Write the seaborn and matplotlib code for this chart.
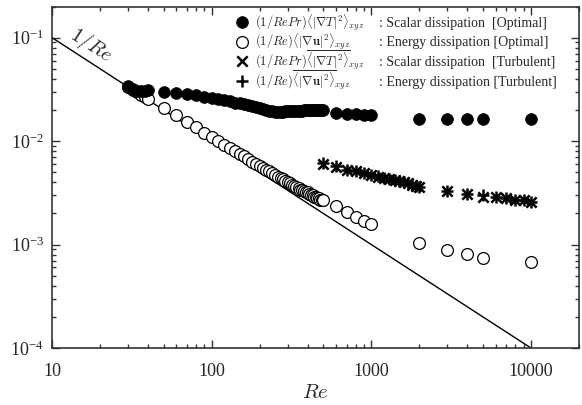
import numpy as np
import matplotlib
matplotlib.use("Agg")
import matplotlib.pyplot as plt
import seaborn as sns
from matplotlib.ticker import FuncFormatter, LogLocator, NullFormatter

# ---------------- data ----------------
re_opt = [30, 32, 34, 36, 38, 40,
          50, 60, 70, 80, 90, 100, 110, 120, 130, 140, 150, 160, 170, 180,
          190, 200, 210, 220, 230, 240, 250, 260, 270, 280, 290, 300, 310,
          320, 330, 340, 350, 360, 370, 380, 390, 400, 410, 420, 430, 440,
          450, 460, 470, 480, 490, 500,
          600, 700, 800, 900, 1000,
          2000, 3000, 4000, 5000, 10000]

scalar_opt = [0.0340, 0.0322, 0.0308, 0.0302, 0.0305, 0.0310,
              0.0300, 0.0292, 0.0284, 0.0276, 0.0268, 0.0261, 0.0254, 0.0248,
              0.0242, 0.0236, 0.0231, 0.0226, 0.0221, 0.0216, 0.0212, 0.0208,
              0.0204, 0.0200, 0.0197, 0.0194, 0.0192, 0.0192, 0.0193, 0.0193,
              0.0194, 0.0194, 0.0195, 0.0195, 0.0196, 0.0196, 0.0197, 0.0197,
              0.0197, 0.0198, 0.0198, 0.0198, 0.0199, 0.0199, 0.0199, 0.0200,
              0.0200, 0.0200, 0.0200, 0.0201, 0.0201, 0.0201,
              0.0188, 0.0184, 0.0182, 0.0180, 0.0177,
              0.0165, 0.0165, 0.0165, 0.0165, 0.0165]

energy_opt = [0.0335, 0.0315, 0.0297, 0.0281, 0.0267, 0.0257,
              0.0210, 0.0177, 0.0154, 0.0137, 0.0121, 0.0109, 0.0100, 0.0092,
              0.0086, 0.0080, 0.0075, 0.0071, 0.0067, 0.0063, 0.0060, 0.0058,
              0.0055, 0.0053, 0.0051, 0.0049, 0.0047, 0.0045, 0.0044, 0.0043,
              0.0041, 0.0040, 0.0039, 0.0038, 0.0037, 0.0036, 0.0035, 0.0034,
              0.0034, 0.0033, 0.0032, 0.0032, 0.0031, 0.0030, 0.0030, 0.0029,
              0.0029, 0.0028, 0.0028, 0.0027, 0.0027, 0.0027,
              0.00237, 0.00207, 0.00185, 0.00169, 0.00158,
              0.00104, 0.00089, 0.00081, 0.00074, 0.00068]

re_turb = [500, 600, 700, 800, 900, 1000, 1100, 1200, 1300, 1400, 1500,
           1600, 1700, 1800, 1900, 2000,
           3000, 4000, 5000, 6000, 7000, 8000, 9000, 10000]

scalar_turb = [0.0060, 0.0056, 0.0053, 0.0051, 0.0049, 0.0047, 0.0045, 0.0044,
               0.0043, 0.0042, 0.0041, 0.0040, 0.0039, 0.0038, 0.0037, 0.0036,
               0.0033, 0.0031, 0.0029, 0.0029, 0.0028, 0.0027, 0.0027, 0.0026]

energy_turb = [0.0061, 0.0057, 0.0053, 0.0051, 0.0049, 0.0047, 0.0046, 0.0044,
               0.0043, 0.0042, 0.0041, 0.0040, 0.0039, 0.0038, 0.0037, 0.0036,
               0.0033, 0.0031, 0.0030, 0.0029, 0.0028, 0.0027, 0.0027, 0.0026]

re_line = [10, 10000]
line_vals = [0.1, 0.0001]

labels = [r'$(1/RePr)\langle|\nabla T|^2\rangle_{xyz}$',
          r'$(1/Re)\langle|\nabla \mathbf{u}|^2\rangle_{xyz}$',
          r'$(1/RePr)\overline{\langle|\nabla T|^2\rangle}_{xyz}$',
          r'$(1/Re)\overline{\langle|\nabla \mathbf{u}|^2\rangle}_{xyz}$']
descs = [': Scalar dissipation  [Optimal]',
         ': Energy dissipation [Optimal]',
         ': Scalar dissipation  [Turbulent]',
         ': Energy dissipation [Turbulent]']

# ---------------- style ----------------
sns.set_theme(style="ticks")
plt.rcParams['font.family'] = ['Liberation Serif', 'DejaVu Serif']
plt.rcParams['mathtext.fontset'] = 'cm'

fig = plt.figure(figsize=(5.82, 4.05), dpi=100)
ax = fig.add_axes([52 / 582, 57 / 405, 527 / 582, 341.5 / 405])

sns.lineplot(x=re_line, y=line_vals, color='black', linewidth=1.0, ax=ax,
             legend=False)

sns.scatterplot(x=re_opt, y=energy_opt, marker='o', s=72, color='white',
                edgecolor='black', linewidth=0.9, ax=ax, label=labels[1],
                zorder=3)
sns.scatterplot(x=re_opt, y=scalar_opt, marker='o', s=72, color='black',
                edgecolor='black', linewidth=0.5, ax=ax, label=labels[0],
                zorder=4)
sns.scatterplot(x=re_turb, y=scalar_turb, marker='x', s=55, color='black',
                linewidth=1.8, ax=ax, label=labels[2], zorder=4)
sns.scatterplot(x=re_turb, y=energy_turb, marker='+', s=70, color='black',
                linewidth=1.8, ax=ax, label=labels[3], zorder=4)

ax.set_xscale('log')
ax.set_yscale('log')
ax.set_xlim(10, 20000)
ax.set_ylim(1e-4, 0.2)

ax.xaxis.set_major_locator(LogLocator(base=10, numticks=10))
ax.xaxis.set_minor_locator(LogLocator(base=10, subs=np.arange(2, 10), numticks=20))
ax.yaxis.set_major_locator(LogLocator(base=10, numticks=10))
ax.yaxis.set_minor_locator(LogLocator(base=10, subs=np.arange(2, 10), numticks=20))
ax.xaxis.set_major_formatter(FuncFormatter(lambda v, p: f'{int(round(v))}'))
ax.yaxis.set_major_formatter(FuncFormatter(
    lambda v, p: r'$\mathdefault{10^{%d}}$' % int(round(np.log10(v)))))
ax.xaxis.set_minor_formatter(NullFormatter())
ax.yaxis.set_minor_formatter(NullFormatter())

ax.tick_params(which='both', direction='in', top=True, right=True,
               color='#333333', width=1.0)
ax.tick_params(which='major', length=5.5, labelsize=13)
ax.tick_params(axis='x', which='major', pad=11)
ax.tick_params(axis='y', which='major', pad=6)
ax.tick_params(which='minor', length=3)
for sp in ax.spines.values():
    sp.set_linewidth(1.2)
    sp.set_color('#333333')

ax.set_xlabel(r'$Re$', fontsize=15, labelpad=3)
ax.set_ylabel('')

ax.text(17.5, 0.085, r'$1/Re$', rotation=-33, fontsize=14.5, ha='center',
        va='center', rotation_mode='anchor')

# legend: markers from the scatter handles, text placed on each row
h, l = ax.get_legend_handles_labels()
order = [l.index(lbl) for lbl in labels]
leg = ax.legend([h[i] for i in order], [' '] * 4,
                loc='upper left', bbox_to_anchor=(0.3486, 0.972),
                frameon=False, fontsize=9, handletextpad=0.0,
                labelspacing=0.62, borderpad=0, borderaxespad=0,
                handlelength=1.0)

fig.canvas.draw()
inv = ax.transAxes.inverted()
for t, lab, d in zip(leg.get_texts(), labels, descs):
    bb = t.get_window_extent()
    yc = (bb.y0 + bb.y1) / 2
    yb = inv.transform((0, yc - 4.5))[1]
    ax.text(0.385, yb, lab, transform=ax.transAxes, fontsize=9.0,
            va='baseline', ha='left')
    ax.text(0.621, yb, d, transform=ax.transAxes, fontsize=10,
            va='baseline', ha='left')

fig.savefig('out.png', dpi=100)
